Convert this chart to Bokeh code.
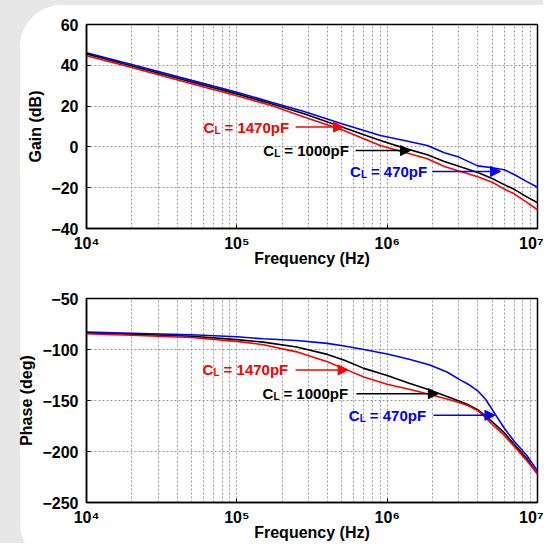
from bokeh.plotting import figure
from bokeh.layouts import column
from bokeh.models import FixedTicker, Arrow, NormalHead, Label
from bokeh.embed import file_html
from bokeh.resources import INLINE

# ---------------- data ----------------
decades = [1e4, 1e5, 1e6, 1e7]
decade_labels = ["10\u2074", "10\u2075", "10\u2076", "10\u2077"]
minor_ticks = [m * d for d in decades[:-1] for m in range(2, 10)]

gain_ticks = [-40, -20, 0, 20, 40, 60]
phase_ticks = [-250, -200, -150, -100, -50]

freq_gain = [1e4, 2e4, 5e4, 1e5, 1.7e5, 2.8e5, 5e5, 9e5, 1.3e6, 1.85e6,
             2.4e6, 3e6, 4e6, 5e6, 6e6, 7e6, 8.5e6, 1e7]
gain_470 = [46.2, 40.4, 32.6, 26.8, 21.9, 17.4, 11.3, 5.6, 3.1, 0.7,
            -2.9, -5.0, -9.3, -10.2, -11.2, -13.5, -17.0, -19.8]
gain_1000 = [45.5, 39.7, 31.8, 26.0, 21.1, 16.2, 9.7, 3.1, -0.6, -3.9,
             -7.2, -9.5, -12.6, -15.5, -18.5, -20.8, -24.5, -27.4]
gain_1470 = [44.7, 38.9, 31.0, 25.1, 20.3, 14.6, 8.4, 0.7, -2.6, -5.8,
             -9.6, -11.8, -14.6, -17.3, -20.6, -23.0, -27.2, -30.8]

freq_phase = [1e4, 2e4, 5e4, 1e5, 1.5e5, 2.5e5, 4e5, 5.2e5, 7e5, 1e6,
              1.4e6, 1.9e6, 2.5e6, 3e6, 3.5e6, 4e6, 4.5e6, 5e6, 6e6,
              7e6, 8.5e6, 1e7]
phase_470 = [-83.0, -84.0, -85.6, -87.5, -89.5, -91.2, -94.0, -96.5, -100.0,
             -104.5, -109.5, -115.0, -122.0, -129.0, -134.5, -140.5, -148.5,
             -159.0, -177.0, -190.0, -204.0, -219.0]
phase_1000 = [-84.0, -85.0, -87.0, -90.3, -92.8, -97.5, -104.8, -110.5,
              -118.5, -125.5, -133.0, -139.5, -146.0, -150.5, -154.5, -159.0,
              -165.0, -171.0, -181.5, -193.0, -207.0, -222.0]
phase_1470 = [-84.6, -86.0, -88.2, -92.0, -95.3, -102.3, -112.0, -119.0,
              -127.0, -134.0, -139.0, -143.8, -148.5, -152.0, -155.5, -160.0,
              -166.5, -173.5, -184.0, -195.0, -209.0, -222.0]

series_names = ["= 470pF", "= 1000pF", "= 1470pF"]
series_colors = ["#0000ff", "#000000", "#ff0000"]

# annotation placement: (text left x, text y, arrow x start, arrow x end)
gain_notes = [(5.65e5, -12.0, 2.0e6, 5.68e6),
              (1.50e5, -1.8, 6.17e5, 1.43e6),
              (6.0e4, 9.7, 2.46e5, 5.13e5)]
phase_notes = [(5.56e5, -164.5, 2.03e6, 5.21e6),
               (1.48e5, -143.3, 6.25e5, 2.19e6),
               (5.92e4, -120.0, 2.46e5, 5.5e5)]

FONT = "Liberation Sans, Arial, sans-serif"
G = "#e7e7e7"
BG_TOP = (f"radial-gradient(circle at 62px 47px, rgba(255,255,255,0) 41.5px, {G} 42.5px) 0 0 / 62px 47px no-repeat, "
          f"linear-gradient({G}, {G}) 0 0 / 20px 100% no-repeat, "
          f"linear-gradient({G}, {G}) 0 0 / 100% 5px no-repeat, white")
BG_BOTTOM = (f"radial-gradient(circle at 62px 0px, rgba(255,255,255,0) 41.5px, {G} 42.5px) 0 100% / 62px 20px no-repeat, "
             f"linear-gradient({G}, {G}) 0 0 / 20px 100% no-repeat, white")


def make_fig(y_range, yticks, ylabel, borders, bg):
    left, right, top, bottom = borders
    p = figure(x_axis_type="log", x_range=(decades[0], decades[-1]),
               y_range=y_range, frame_width=451, frame_height=204,
               min_border_left=left, min_border_right=right,
               min_border_top=top, min_border_bottom=bottom,
               output_backend="svg", toolbar_location=None,
               styles={"background": bg})
    p.background_fill_color = "white"
    p.border_fill_alpha = 0.0
    p.outline_line_color = "black"
    p.outline_line_width = 1.5

    p.xaxis.ticker = FixedTicker(ticks=decades, minor_ticks=minor_ticks)
    p.xaxis.major_label_overrides = {d: s for d, s in zip(decades, decade_labels)}
    p.yaxis.ticker = FixedTicker(ticks=yticks)

    for ax in (p.xaxis, p.yaxis):
        ax.axis_line_color = "black"
        ax.axis_line_width = 1.5
        ax.major_tick_line_color = "black"
        ax.major_tick_in = 4
        ax.major_tick_out = 0
        ax.minor_tick_in = 0
        ax.minor_tick_out = 0
        ax.major_label_text_font = FONT
        ax.major_label_text_font_style = "bold"
        ax.major_label_text_font_size = "16px"
        ax.major_label_text_color = "black"
        ax.axis_label_text_font = FONT
        ax.axis_label_text_font_style = "bold"
        ax.axis_label_text_font_size = "16px"
        ax.axis_label_text_color = "black"
    p.xaxis.major_label_standoff = 6
    p.yaxis.major_label_standoff = 8
    p.xaxis.axis_label = "Frequency (Hz)"
    p.yaxis.axis_label = ylabel
    p.xaxis.axis_label_standoff = -5
    p.yaxis.axis_label_standoff = 4

    for g in (p.xgrid, p.ygrid):
        g.grid_line_color = "#9a9a9a"
        g.grid_line_dash = "2 2"
        g.grid_line_width = 1
    p.xgrid.minor_grid_line_color = "#9a9a9a"
    p.xgrid.minor_grid_line_dash = "2 2"
    p.xgrid.minor_grid_line_width = 1
    return p


def add_note(p, note, name, color):
    tx, ty, ax0, ax1 = note
    common = dict(x=tx, y=ty, text_font=FONT, text_font_style="bold",
                  text_color=color, text_baseline="middle", text_align="left")
    p.add_layout(Label(text="C", text_font_size="15px", **common))
    p.add_layout(Label(text="L", text_font_size="10px", x_offset=11,
                       y_offset=-3, **common))
    p.add_layout(Label(text=name, text_font_size="15px", x_offset=21, **common))
    p.add_layout(Arrow(end=NormalHead(size=10, fill_color=color,
                                      line_color=color, line_width=1),
                       x_start=ax0, y_start=ty, x_end=ax1, y_end=ty,
                       line_color=color, line_width=1.5))


p1 = make_fig((-40, 60), gain_ticks, "Gain (dB)", (86, 6, 24, 47), BG_TOP)
for ys, c in zip([gain_470, gain_1000, gain_1470], series_colors):
    p1.line(freq_gain, ys, line_color=c, line_width=1.6)
for note, name, c in zip(gain_notes, series_names, series_colors):
    add_note(p1, note, name, c)

p2 = make_fig((-250, -50), phase_ticks, "Phase (deg)", (85, 7, 23, 36), BG_BOTTOM)
for ys, c in zip([phase_470, phase_1000, phase_1470], series_colors):
    p2.line(freq_phase, ys, line_color=c, line_width=1.6)
for note, name, c in zip(phase_notes, series_names, series_colors):
    add_note(p2, note, name, c)

layout = column(p1, p2, spacing=0)

open("out.html", "w").write(file_html(layout, INLINE))
